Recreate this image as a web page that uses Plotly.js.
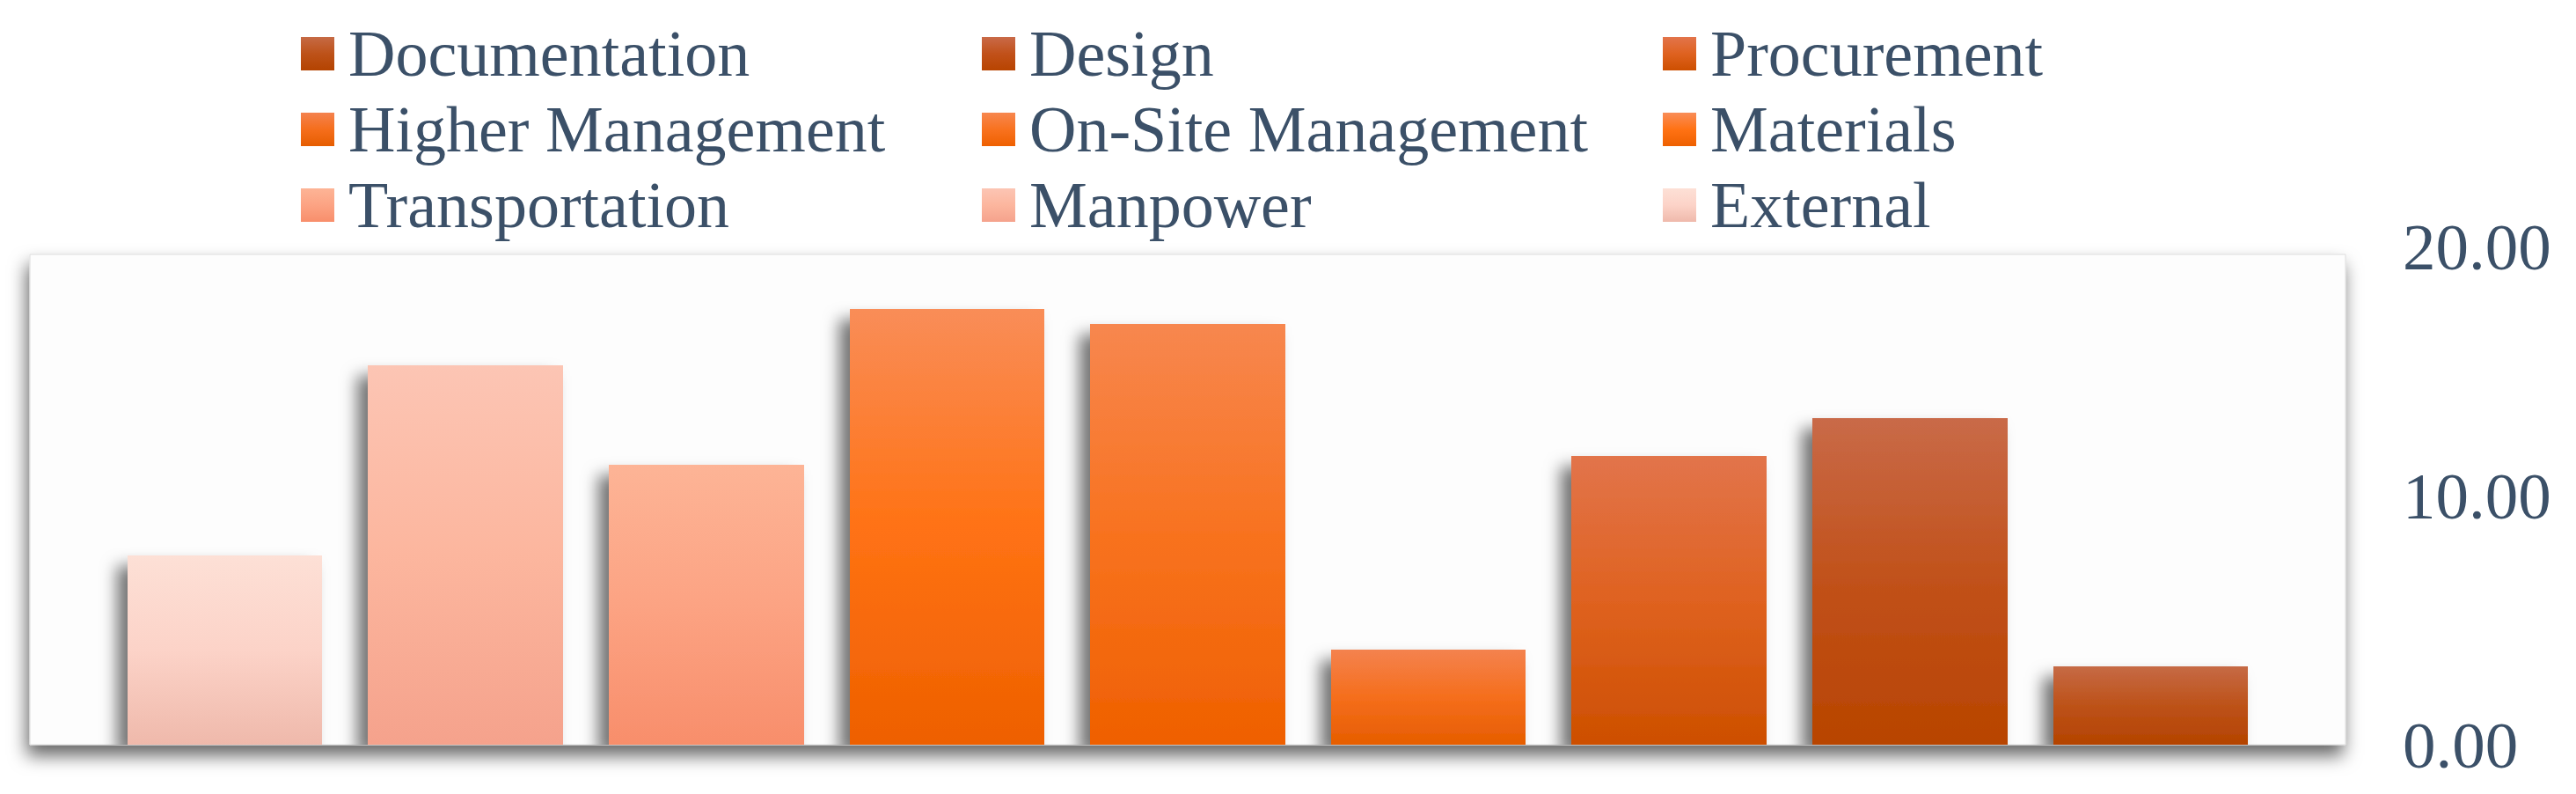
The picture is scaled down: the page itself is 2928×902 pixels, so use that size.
<!DOCTYPE html>
<html>
<head>
<meta charset="utf-8">
<script src="https://cdn.plot.ly/plotly-3.0.1.min.js"></script>
<style>
  html, body { margin: 0; padding: 0; background: #ffffff; }
  #chart { width: 2928px; height: 902px; }
</style>
</head>
<body>
<div id="chart"></div>
<script>
// Bars, left to right
const categories = ['External', 'Manpower', 'Transportation', 'Materials', 'On-Site Management',
    'Higher Management', 'Procurement', 'Design', 'Documentation']
const values = [7.6, 15.22, 11.25, 17.5, 16.9, 3.8, 11.6, 13.1, 3.15]

// Right-hand axis
const tickValues = [0, 10, 20]
const tickLabels = ['0.00', '10.00', '20.00']

// Gradient fill per bar (top, middle, bottom)
const topColors = ['#fde0d6', '#fcc5b4', '#fdb496', '#f98d58', '#f7874f', '#f4824e', '#e2744b', '#c96a48', '#c66a45']
const midColors = ['#fcd3c8', '#fcb69e', '#fca383', '#ff7214', '#f8721f', '#f56e1c', '#df6220', '#c1511a', '#bd5219']
const bottomColors = ['#efb9ab', '#f5a28c', '#f88e6b', '#ee6000', '#ef6000', '#e65d00', '#cd4f00', '#b84400', '#b44300']

const textColor = '#3b5068'
const serif = 'Liberation Serif, Times New Roman, serif'

const traces = categories.map((name, i) => ({
    type: 'bar',
    name: name,
    x: [name],
    y: [values[i]],
    marker: { color: midColors[i], line: { width: 0 } },
    cliponaxis: false,
    hoverinfo: 'none'
}))

const layout = {
    width: 2928,
    height: 902,
    paper_bgcolor: '#ffffff',
    plot_bgcolor: 'rgba(0,0,0,0)',
    margin: { l: 34, r: 262, t: 280, b: 56, autoexpand: false },
    barmode: 'stack',
    bargap: 0.19,
    showlegend: true,
    legend: {
        orientation: 'h',
        traceorder: 'reversed',
        xref: 'container', yref: 'container',
        x: 0.108, xanchor: 'left',
        y: 1, yanchor: 'top',
        entrywidth: 697, entrywidthmode: 'pixels',
        itemwidth: 60,
        font: { family: serif, size: 74, color: textColor },
        bgcolor: 'rgba(0,0,0,0)'
    },
    xaxis: {
        type: 'category',
        categoryorder: 'array',
        categoryarray: categories,
        range: [-0.81, 8.81],
        showticklabels: false,
        showgrid: false, zeroline: false, showline: false, ticks: ''
    },
    yaxis: {
        side: 'right',
        range: [0, 20],
        tickmode: 'array',
        tickvals: tickValues,
        ticktext: tickLabels,
        ticks: '',
        ticklabelstandoff: 64,
        showgrid: false, zeroline: false, showline: false,
        tickfont: { family: serif, size: 75, color: textColor }
    },
    shapes: [{
        type: 'rect', xref: 'paper', yref: 'paper',
        x0: 0, x1: 1, y0: 0, y1: 0.984,
        fillcolor: '#fdfdfd', line: { width: 1, color: '#dcdcdc' }, layer: 'below'
    }]
}

// legend grid of the original: first swatch centre, column and row pitch (px)
const legendOrigin = [361, 61]
const legendPitch = [774, 86]

// Plotly has no gradient fills or shadows for bars, so add them to the svg afterwards
function addDefs(svg) {
    const ns = 'http://www.w3.org/2000/svg'
    let defs = svg.querySelector('defs')
    if (!defs) {
        defs = document.createElementNS(ns, 'defs')
        svg.insertBefore(defs, svg.firstChild)
    }
    categories.forEach((_, i) => {
        const g = document.createElementNS(ns, 'linearGradient')
        g.setAttribute('id', 'barGrad' + i)
        g.setAttribute('x1', '0'); g.setAttribute('y1', '0')
        g.setAttribute('x2', '0'); g.setAttribute('y2', '1')
        ;[[0, topColors[i]], [0.5, midColors[i]], [1, bottomColors[i]]].forEach(([off, c]) => {
            const s = document.createElementNS(ns, 'stop')
            s.setAttribute('offset', off)
            s.setAttribute('stop-color', c)
            g.appendChild(s)
        })
        defs.appendChild(g)
    })
    defs.insertAdjacentHTML('beforeend',
        '<filter id="barShadow" x="-50%" y="-50%" width="200%" height="200%">' +
        '<feDropShadow dx="-12" dy="12" stdDeviation="9" flood-color="#000" flood-opacity="0.55"/></filter>' +
        '<filter id="panelShadow" x="-5%" y="-15%" width="110%" height="140%">' +
        '<feDropShadow dx="-3" dy="12" stdDeviation="10" flood-color="#000" flood-opacity="0.6"/></filter>')
}

function traceIndex(el, fallback) {
    const d = el.__data__
    if (d && d[0] && d[0].trace) return d[0].trace.index
    return fallback
}

function parseTranslate(el) {
    const m = /translate\(\s*([-\d.e]+)[ ,]+([-\d.e]+)/.exec(el.getAttribute('transform') || '')
    return m ? [parseFloat(m[1]), parseFloat(m[2])] : [0, 0]
}

// put the legend entries on the original grid
function placeLegend(gd) {
    const items = Array.from(gd.querySelectorAll('.legend .traces'))
    if (!items.length) return
    const pos = items.map(parseTranslate)
    const xs = [...new Set(pos.map(p => Math.round(p[0])))].sort((a, b) => a - b)
    const ys = [...new Set(pos.map(p => Math.round(p[1])))].sort((a, b) => a - b)
    items.forEach((el, k) => {
        const col = xs.indexOf(Math.round(pos[k][0]))
        const row = ys.indexOf(Math.round(pos[k][1]))
        el.setAttribute('transform', `translate(${pos[0][0] + col * legendPitch[0]},${pos[0][1] + row * legendPitch[1]})`)
    })
    // shift the whole set so the first swatch lands where it should
    const first = items[0].querySelector('.legendpoints path')
    if (!first) return
    const r = first.getBoundingClientRect()
    const host = gd.getBoundingClientRect()
    const dx = legendOrigin[0] - (r.left + r.width / 2 - host.left)
    const dy = legendOrigin[1] - (r.top + r.height / 2 - host.top)
    items.forEach(el => {
        const p = parseTranslate(el)
        el.setAttribute('transform', `translate(${p[0] + dx},${p[1] + dy})`)
        // text sits a little higher than the swatch centre in the original
        const t = el.querySelector('.legendtext')
        if (t) t.setAttribute('transform', 'translate(0,-4)')
    })
}

Plotly.newPlot('chart', traces, layout, { staticPlot: true }).then(gd => {
    addDefs(gd.querySelector('.main-svg'))

    const panel = gd.querySelector('.layer-below .shapelayer path')
    if (panel) panel.setAttribute('filter', 'url(#panelShadow)')

    gd.querySelectorAll('.barlayer .trace').forEach((el, k) => {
        const i = traceIndex(el, k)
        el.querySelectorAll('.point path').forEach(p => {
            p.style.fill = 'url(#barGrad' + i + ')'
            p.setAttribute('filter', 'url(#barShadow)')
        })
    })

    gd.querySelectorAll('.legend .traces').forEach((el, k) => {
        const i = traceIndex(el, categories.length - 1 - k)
        el.querySelectorAll('.legendpoints path').forEach(p => {
            p.setAttribute('d', 'M19,19H-19V-19H19Z')
            p.style.fill = 'url(#barGrad' + i + ')'
        })
    })

    // legend clip box would cut the re-spaced rows
    const clip = gd.querySelector('.legend .scrollbox')
    if (clip) clip.removeAttribute('clip-path')
    placeLegend(gd)
})
</script>
</body>
</html>
